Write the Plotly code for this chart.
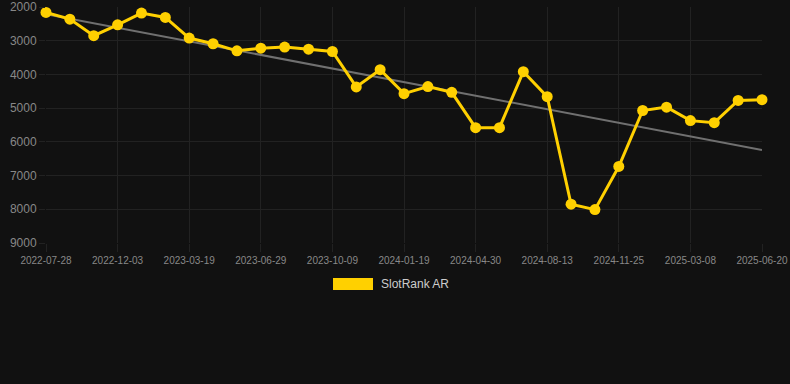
import numpy as np
import plotly.graph_objects as go

dates = ["2022-07-28", "2022-09-10", "2022-10-22", "2022-12-03", "2023-01-08", "2023-02-12",
         "2023-03-19", "2023-04-22", "2023-05-26", "2023-06-29", "2023-08-02", "2023-09-05",
         "2023-10-09", "2023-11-12", "2023-12-16", "2024-01-19", "2024-02-22", "2024-03-27",
         "2024-04-30", "2024-06-03", "2024-07-08", "2024-08-13", "2024-09-17", "2024-10-21",
         "2024-11-25", "2024-12-30", "2025-02-02", "2025-03-08", "2025-04-11", "2025-05-16",
         "2025-06-20"]
rank = [2160, 2360, 2850, 2530, 2180, 2310, 2920, 3090, 3300, 3220, 3190, 3250, 3320,
        4370, 3860, 4570, 4360, 4530, 5580, 5580, 3920, 4660, 7850, 8010, 6730, 5070,
        4970, 5370, 5430, 4770, 4750]
y_ticks = [2000, 3000, 4000, 5000, 6000, 7000, 8000, 9000]
series_name = "SlotRank AR"

x = np.arange(len(dates))
coef = np.polyfit(x, rank, 1)
trend = np.polyval(coef, x)

GOLD = "#FFD000"
fig = go.Figure()
fig.add_trace(go.Scatter(x=x, y=trend, mode="lines",
                         line=dict(color="#707070", width=2), hoverinfo="skip", showlegend=False,
                         cliponaxis=False))
fig.add_trace(go.Scatter(x=x, y=rank, mode="lines+markers", name=series_name,
                         line=dict(color=GOLD, width=3),
                         marker=dict(color=GOLD, size=11), showlegend=False,
                         cliponaxis=False))

tick_idx = list(range(0, len(dates), 3))
fig.update_layout(
    width=790, height=384,
    paper_bgcolor="#111111", plot_bgcolor="#111111",
    margin=dict(l=46, r=28, t=7, b=141, autoexpand=False),
    font=dict(family="Liberation Sans, Arial, sans-serif", color="#888888"),
    xaxis=dict(range=[0, len(dates) - 1], tickvals=tick_idx,
               ticktext=[dates[i] for i in tick_idx], automargin=False,
               showgrid=True, gridcolor="#222222", gridwidth=1,
               ticks="outside", ticklen=8, tickcolor="#222222",
               tickfont=dict(size=10, color="#888888"), zeroline=False,
               showline=False),
    yaxis=dict(range=[9000, 2000], tickvals=y_ticks, automargin=False,
               showgrid=True, gridcolor="#222222", gridwidth=1,
               ticks="outside", ticklen=6, tickcolor="#222222",
               tickfont=dict(size=12, color="#888888"), zeroline=False,
               showline=False),
    showlegend=False,
)
# legend box + label
fig.add_shape(type="rect", xref="paper", yref="paper",
              x0=(333 - 46) / 716, x1=(373 - 46) / 716,
              y0=(243 - 290) / 236, y1=(243 - 278) / 236,
              fillcolor=GOLD, line=dict(width=0))
fig.add_annotation(xref="paper", yref="paper", x=(379 - 46) / 716, y=(243 - 284) / 236,
                   xanchor="left", yanchor="middle", text=series_name, showarrow=False,
                   font=dict(size=12, color="#cccccc"))
fig.write_html("out.html", config={"displayModeBar": False},
               post_script="document.body.style.margin='0';document.body.style.padding='0';"
                           "document.body.style.background='#111111';"
                           "document.documentElement.style.background='#111111';")
